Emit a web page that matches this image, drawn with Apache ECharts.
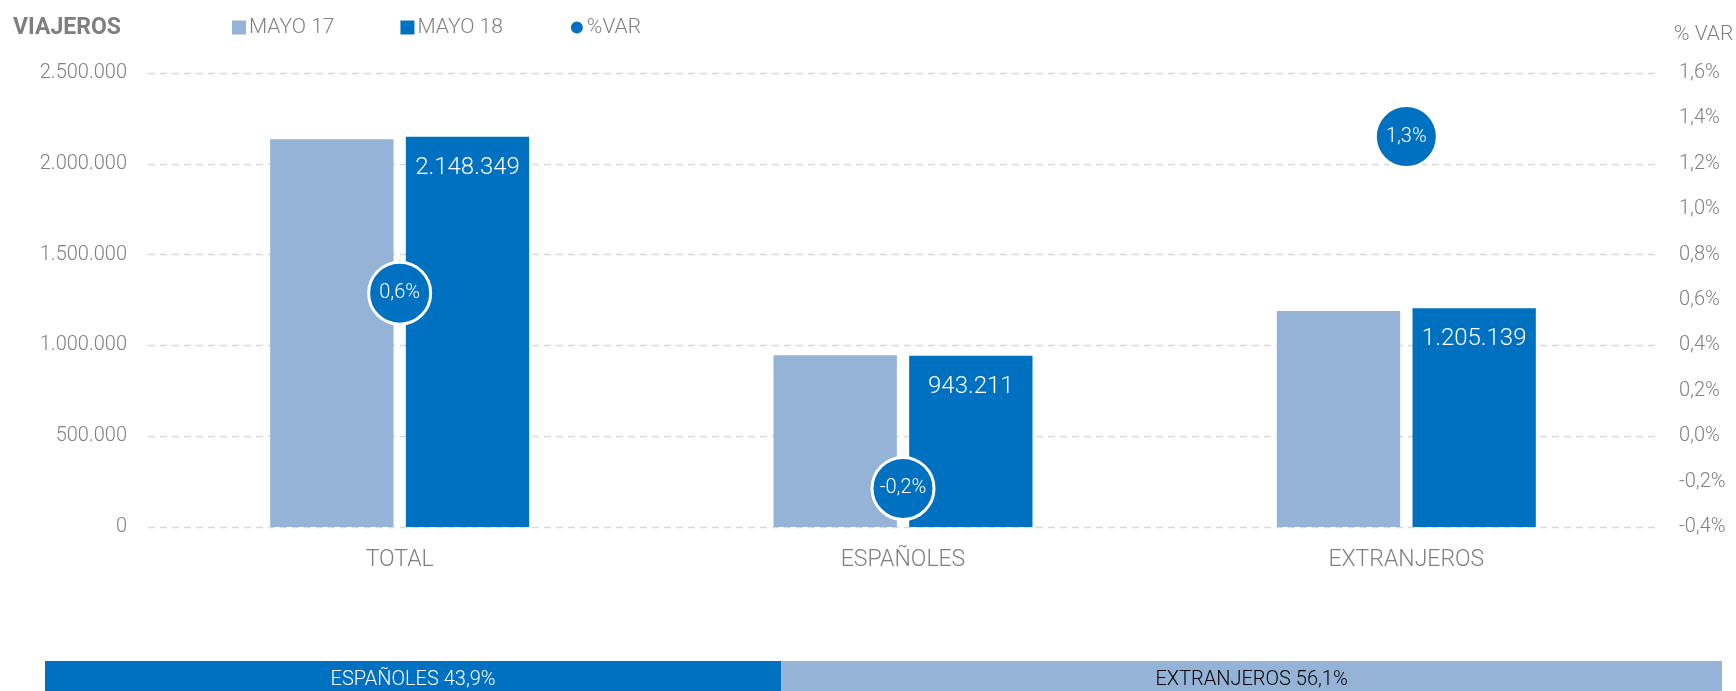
<!DOCTYPE html>
<html>
<head>
<meta charset="utf-8">
<script src="https://cdn.jsdelivr.net/npm/echarts@6/dist/echarts.min.js"></script>
<style>
html,body{margin:0;padding:0;background:#fff;}
#chart{width:1736px;height:691px;}
</style>
</head>
<body>
<div id="chart"></div>
<script>
const categories = ['TOTAL', 'ESPAÑOLES', 'EXTRANJEROS'];
const seriesNames = ['MAYO 17', 'MAYO 18', '%VAR'];
const mayo17 = [2134800, 945100, 1189700];
const mayo18 = [2148349, 943211, 1205139];
const pctVar = [0.63, -0.23, 1.32];
const leftAxis = { min: 0, max: 2500000, interval: 500000 };
const rightAxis = { min: -0.4, max: 1.6, interval: 0.2 };
const shareNames = ['ESPAÑOLES', 'EXTRANJEROS'];
const shareValues = [43.9, 56.1];

const C17 = '#95B3D7', C18 = '#0070C0', GREY = '#7F7F7F';
const FONT = 'Roboto';
const thousands = v => String(Math.round(v)).replace(/\B(?=(\d{3})+(?!\d))/g, '.');
const pct = v => v.toFixed(1).replace('.', ',') + '%';

const chart = echarts.init(document.getElementById('chart'));
chart.setOption({
  animation: false,
  textStyle: { fontFamily: FONT },
  graphic: [
    { type: 'text', x: 13, y: 28, style: { text: 'VIAJEROS', fill: GREY, font: 'bold 23px Roboto', verticalAlign: 'middle' } },
    { type: 'text', x: 1674, y: 35, style: { text: '% VAR', fill: GREY, font: '300 21px Roboto', verticalAlign: 'middle' } }
  ],
  legend: {
    left: 227, top: 12, itemWidth: 14, itemHeight: 14, itemGap: 66,
    textStyle: { color: GREY, fontSize: 21, fontWeight: 300, fontFamily: FONT, padding: [0, 0, 0, -2] },
    data: [
      { name: seriesNames[0], icon: 'rect' },
      { name: seriesNames[1], icon: 'rect' },
      { name: seriesNames[2], icon: 'circle' }
    ]
  },
  grid: [
    { left: 148, right: 78, top: 73, bottom: 164 },
    { left: 45, right: 14, top: 661, height: 30 }
  ],
  xAxis: [
    {
      type: 'category', data: categories, gridIndex: 0,
      axisLine: { show: false }, axisTick: { show: false },
      axisLabel: { color: GREY, fontSize: 23, fontWeight: 300, margin: 22 }
    },
    { type: 'value', gridIndex: 1, min: 0, max: 100, show: false }
  ],
  yAxis: [
    {
      type: 'value', gridIndex: 0, min: leftAxis.min, max: leftAxis.max, interval: leftAxis.interval,
      axisLine: { show: false }, axisTick: { show: false },
      axisLabel: { color: GREY, fontSize: 20, fontWeight: 300, margin: 21, formatter: thousands },
      splitLine: { lineStyle: { color: '#D9D9D9', type: [7, 5], width: 1.3 } }
    },
    {
      type: 'value', gridIndex: 0, min: rightAxis.min, max: rightAxis.max, interval: rightAxis.interval,
      position: 'right',
      axisLine: { show: false }, axisTick: { show: false }, splitLine: { show: false },
      axisLabel: { color: GREY, fontSize: 20, fontWeight: 300, margin: 21, formatter: pct }
    },
    { type: 'category', gridIndex: 1, data: ['share'], show: false }
  ],
  series: [
    {
      name: seriesNames[0], type: 'bar', data: mayo17, barWidth: '24.5%', barGap: '10%',
      itemStyle: { color: C17 }
    },
    {
      name: seriesNames[1], type: 'bar', data: mayo18, barWidth: '24.5%', barGap: '10%',
      itemStyle: { color: C18 },
      label: { show: true, position: 'insideTop', distance: 19, color: '#fff', fontSize: 24, fontWeight: 300,
        formatter: p => thousands(p.value) }
    },
    {
      name: seriesNames[2], type: 'scatter', yAxisIndex: 1, data: pctVar, symbolSize: 62, z: 10,
      itemStyle: { color: C18, borderColor: '#fff', borderWidth: 3, opacity: 1 },
      label: { show: true, position: 'inside', color: '#fff', fontSize: 20, fontWeight: 300,
        formatter: p => pct(p.value) }
    },
    {
      type: 'bar', xAxisIndex: 1, yAxisIndex: 2, stack: 'share', barWidth: 30,
      data: [shareValues[0]], itemStyle: { color: C18 }, silent: true,
      label: { show: true, position: 'inside', color: '#fff', fontSize: 20, fontWeight: 300, offset: [0, 4],
        formatter: p => shareNames[0] + ' ' + pct(p.value) }
    },
    {
      type: 'bar', xAxisIndex: 1, yAxisIndex: 2, stack: 'share', barWidth: 30,
      data: [shareValues[1]], itemStyle: { color: C17 }, silent: true,
      label: { show: true, position: 'inside', color: '#000', fontSize: 20, fontWeight: 300, offset: [0, 4],
        formatter: p => shareNames[1] + ' ' + pct(p.value) }
    }
  ]
});
</script>
</body>
</html>
